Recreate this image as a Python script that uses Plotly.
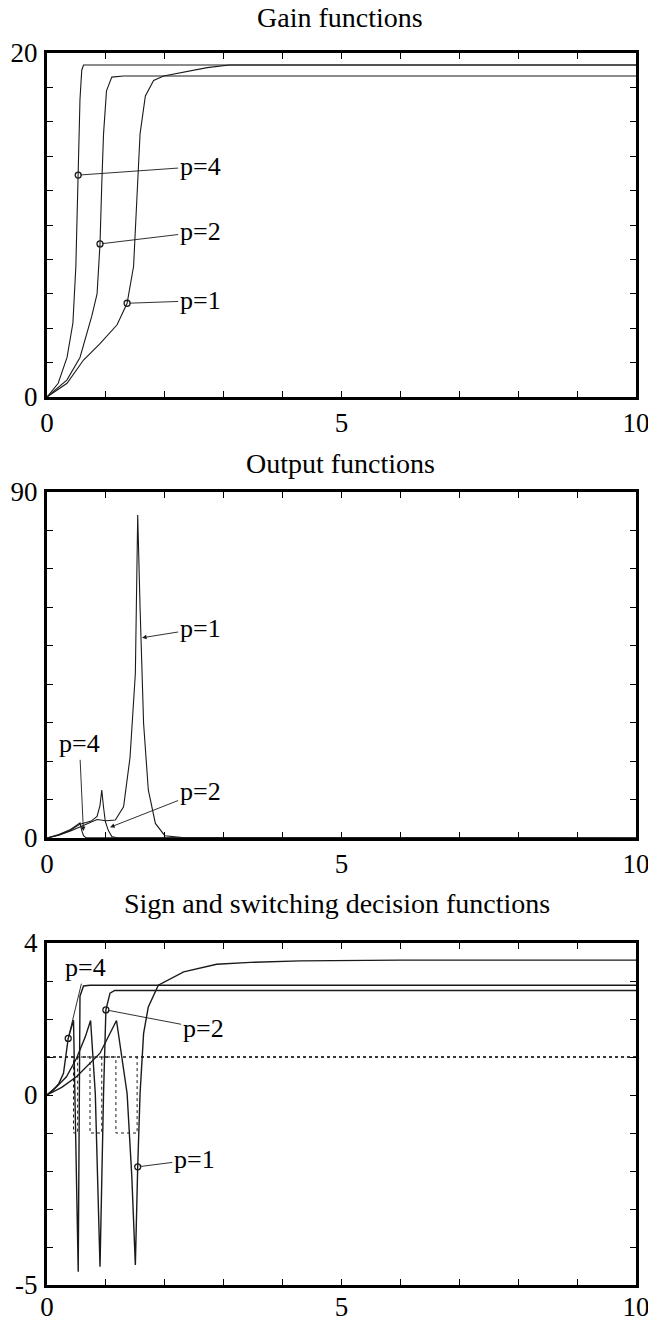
import plotly.graph_objects as go

# ---------------- data ----------------
# Panel 1: gain functions
gain_p4_x = [0, 0.19, 0.34, 0.44, 0.49, 0.52, 0.53, 0.56, 0.59, 0.62, 0.8, 10]
gain_p4_y = [0, 0.8, 2.3, 4.3, 7.6, 11.4, 12.9, 17.3, 19.0, 19.3, 19.3, 19.3]
gain_p2_x = [0, 0.34, 0.56, 0.76, 0.85, 0.90, 0.93, 0.96, 1.01, 1.10, 1.3, 10]
gain_p2_y = [0, 1.0, 2.3, 4.7, 6.0, 8.9, 12.4, 15.3, 17.8, 18.6, 18.66, 18.66]
gain_p1_x = [0, 0.34, 0.62, 0.90, 1.19, 1.36, 1.47, 1.53, 1.58, 1.67, 1.81, 1.98, 2.32, 2.72, 3.1, 10]
gain_p1_y = [0, 0.8, 2.15, 3.1, 4.2, 5.45, 7.6, 11.4, 15.3, 17.5, 18.4, 18.66, 18.9, 19.15, 19.3, 19.3]
gain_mark_x = [0.53, 0.90, 1.36]
gain_mark_y = [12.9, 8.9, 5.45]

# Panel 2: output functions
out_p4_x = [0, 0.2, 0.4, 0.5, 0.56, 0.59, 0.62, 0.66, 10]
out_p4_y = [0, 0.9, 2.2, 3.2, 3.9, 2.0, 0.6, 0.1, 0]
out_p2_x = [0, 0.2, 0.4, 0.56, 0.75, 0.85, 0.90, 0.93, 0.96, 0.99, 1.04, 1.1, 1.2, 10]
out_p2_y = [0, 0.8, 2.0, 3.6, 4.4, 5.6, 8.5, 12.5, 8.0, 4.3, 2.0, 0.4, 0.0, 0]
out_p1_x = [0, 0.2, 0.4, 0.6, 0.85, 1.0, 1.16, 1.3, 1.41, 1.5, 1.54, 1.58, 1.64, 1.72, 1.84, 2.0, 2.3, 10]
out_p1_y = [0, 0.7, 1.8, 3.2, 4.8, 4.5, 4.7, 8.1, 21, 42.8, 84, 60, 29.8, 12.5, 3.8, 0.6, 0.1, 0]
out_mark_x = [0.62, 1.04, 1.58]
out_mark_y = [1.3, 2.6, 52]

# Panel 3: switching decision functions (solid) and sign functions (dotted)
sw_p4_x = [0, 0.1, 0.2, 0.28, 0.36, 0.42, 0.45, 0.53, 0.56, 0.62, 0.73, 10]
sw_p4_y = [0, 0.12, 0.3, 0.57, 1.49, 1.8, 1.97, -4.65, 2.6, 2.87, 2.89, 2.89]
sw_p2_x = [0, 0.15, 0.33, 0.5, 0.65, 0.74, 0.82, 0.90, 0.96, 1.0, 1.07, 1.15, 1.4, 10]
sw_p2_y = [0, 0.2, 0.48, 0.96, 1.53, 1.96, 0.04, -4.52, 0.04, 2.24, 2.68, 2.75, 2.75, 2.75]
sw_p1_x = [0, 0.25, 0.5, 0.9, 1.18, 1.36, 1.44, 1.50, 1.54, 1.58, 1.64, 1.72, 1.89, 2.32, 2.88, 3.45, 4.3, 6.0, 10]
sw_p1_y = [0, 0.2, 0.48, 1.1, 1.96, 0.04, -2.15, -4.47, -1.89, 0.04, 1.62, 2.32, 2.89, 3.24, 3.44, 3.49, 3.53, 3.55, 3.55]
sign_p4_x = [0, 0.45, 0.45, 0.52, 0.52, 10]
sign_p2_x = [0, 0.73, 0.73, 0.93, 0.93, 10]
sign_p1_x = [0, 1.17, 1.17, 1.53, 1.53, 10]
sign_y = [1, 1, -1, -1, 1, 1]
sw_mark_x = [0.36, 1.0, 1.54]
sw_mark_y = [1.49, 2.24, -1.89]

# labels
p_labels = ["p=4", "p=2", "p=1"]
titles = ["Gain functions", "Output functions", "Sign and switching decision functions"]
x_ticks = list(range(0, 11))
x_ticktext = ["0", "", "", "", "", "5", "", "", "", "", "10"]
y1_ticks = list(range(0, 21, 2))
y1_ticktext = ["0"] + [""] * 9 + ["20"]
y2_ticks = list(range(0, 91, 10))
y2_ticktext = ["0"] + [""] * 8 + ["90"]
y3_ticks = list(range(-5, 5))
y3_ticktext = ["-5", "", "", "", "", "0", "", "", "", "4"]

# annotation text positions (data coordinates) for each panel
gain_lab_x = [2.6, 2.6, 2.6]
gain_lab_y = [13.4, 9.6, 5.6]
out_lab_x = [0.55, 2.6, 2.6]
out_lab_y = [24.5, 12.0, 54.5]
sw_lab_x = [0.65, 2.65, 2.5]
sw_lab_y = [3.35, 1.75, -1.7]

# ---------------- figure ----------------
W, H = 648, 1323
FONT = "Liberation Serif, DejaVu Serif, serif"
LINE = "#1a1a1a"

fig = go.Figure()

def add_line(x, y, axis, dash="solid", width=1.1, color=LINE):
    fig.add_trace(go.Scatter(x=x, y=y, mode="lines", xaxis="x" + axis, yaxis="y" + axis,
                             line=dict(color=color, width=width, dash=dash),
                             showlegend=False, hoverinfo="skip"))

def add_marks(x, y, axis):
    fig.add_trace(go.Scatter(x=x, y=y, mode="markers", xaxis="x" + axis, yaxis="y" + axis,
                             marker=dict(symbol="circle-open", size=6, color=LINE,
                                         line=dict(width=1.3, color=LINE)),
                             showlegend=False, hoverinfo="skip"))

# panel 1
add_line(gain_p4_x, gain_p4_y, "")
add_line(gain_p2_x, gain_p2_y, "")
add_line(gain_p1_x, gain_p1_y, "")
add_marks(gain_mark_x, gain_mark_y, "")
# panel 2
add_line(out_p4_x, out_p4_y, "2")
add_line(out_p2_x, out_p2_y, "2")
add_line(out_p1_x, out_p1_y, "2")
# panel 3
add_line(sign_p4_x, sign_y, "3", dash="dot", width=1)
add_line(sign_p2_x, sign_y, "3", dash="dot", width=1)
add_line(sign_p1_x, sign_y, "3", dash="dot", width=1)
add_line(sw_p4_x, sw_p4_y, "3", width=1.4)
add_line(sw_p2_x, sw_p2_y, "3", width=1.4)
add_line(sw_p1_x, sw_p1_y, "3", width=1.4)
add_marks(sw_mark_x, sw_mark_y, "3")

xdom = [47 / W, 636 / W]
def ydom(top, bottom):
    return [1 - bottom / H, 1 - top / H]

axis_common = dict(showline=True, linewidth=3, linecolor="black", mirror="ticks",
                   ticks="inside", ticklen=6, tickwidth=1.3, tickcolor="black",
                   showgrid=False, zeroline=False, automargin=False,
                   ticklabeloverflow="allow",
                   tickfont=dict(family=FONT, size=27, color="black"))

layout = dict(
    template="none",
    width=W, height=H, margin=dict(l=0, r=0, t=0, b=0, pad=0), autosize=False,
    paper_bgcolor="white", plot_bgcolor="white", showlegend=False,
    xaxis=dict(domain=xdom, anchor="y", range=[0, 10], tickvals=x_ticks, ticktext=x_ticktext,
               ticklabelstandoff=0, **axis_common),
    yaxis=dict(domain=ydom(53, 397), anchor="x", range=[0, 20], tickvals=y1_ticks,
               ticktext=y1_ticktext, ticklabelstandoff=1, **axis_common),
    xaxis2=dict(domain=xdom, anchor="y2", range=[0, 10], tickvals=x_ticks, ticktext=x_ticktext,
                ticklabelstandoff=0, **axis_common),
    yaxis2=dict(domain=ydom(492, 838), anchor="x2", range=[0, 90], tickvals=y2_ticks,
                ticktext=y2_ticktext, ticklabelstandoff=1, **axis_common),
    xaxis3=dict(domain=xdom, anchor="y3", range=[0, 10], tickvals=x_ticks, ticktext=x_ticktext,
                ticklabelstandoff=-4, **axis_common),
    yaxis3=dict(domain=ydom(943, 1285), anchor="x3", range=[-5, 4], tickvals=y3_ticks,
                ticktext=y3_ticktext, ticklabelstandoff=1, **axis_common),
)
fig.update_layout(**layout)

# titles
title_y = [17, 463, 903]
title_x = [340, 340, 337]
for t, tx, ty in zip(titles, title_x, title_y):
    fig.add_annotation(text=t, xref="paper", yref="paper", x=tx / W, y=1 - ty / H,
                       showarrow=False, xanchor="center", yanchor="middle",
                       font=dict(family=FONT, size=28, color="black"))

def add_labels(lab_x, lab_y, mark_x, mark_y, axis, arrowhead):
    for txt, lx, ly, mx, my in zip(p_labels, lab_x, lab_y, mark_x, mark_y):
        fig.add_annotation(text=txt, x=mx, y=my, ax=lx, ay=ly,
                           xref="x" + axis, yref="y" + axis, axref="x" + axis, ayref="y" + axis,
                           showarrow=True, arrowhead=arrowhead, arrowsize=1, arrowwidth=0.9,
                           arrowcolor=LINE, standoff=2,
                           font=dict(family=FONT, size=26, color="black"))

add_labels(gain_lab_x, gain_lab_y, gain_mark_x, gain_mark_y, "", 0)
add_labels(out_lab_x, out_lab_y, out_mark_x, out_mark_y, "2", 2)
add_labels(sw_lab_x, sw_lab_y, sw_mark_x, sw_mark_y, "3", 0)

fig.write_html("out.html", config={"displayModeBar": False},
               post_script="document.body.style.margin='0px';document.body.style.padding='0px';"
                           "document.body.style.overflow='hidden';")
